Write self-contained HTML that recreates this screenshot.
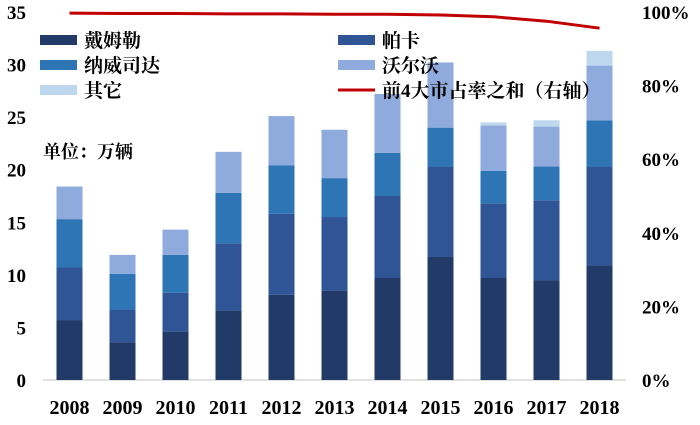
<!DOCTYPE html>
<html><head><meta charset="utf-8"><style>
body{margin:0;background:#fff;}
svg text{font-family:"Liberation Serif","Noto Serif CJK SC",serif;font-weight:bold;fill:#000;}
</style></head><body>
<svg id="c" width="700" height="420"></svg>
<script>
const years=["2008","2009","2010","2011","2012","2013","2014","2015","2016","2017","2018"];
const daimler=[5.7,3.6,4.6,6.6,8.1,8.5,9.7,11.7,9.7,9.5,10.9];
const paccar=[5.0,3.1,3.7,6.4,7.7,7.0,7.8,8.6,7.1,7.6,9.4];
const navistar=[4.6,3.4,3.6,4.8,4.6,3.7,4.1,3.7,3.1,3.2,4.4];
const volvo=[3.1,1.8,2.4,3.9,4.7,4.6,5.6,6.2,4.3,3.8,5.2];
const others=[0,0,0,0,0,0,0,0,0.3,0.6,1.4];
const top4Share=[99.7,99.6,99.6,99.5,99.5,99.4,99.4,99.2,98.7,97.5,95.6];
const leftTicks=[0,5,10,15,20,25,30,35];
const rightTicks=[0,20,40,60,80,100];

const NS="http://www.w3.org/2000/svg";
const svg=document.getElementById('c');
const x0=43,band=53,y0=380,yTop=12,bw=26;
const yL=v=>y0-(v/35)*(y0-yTop);
const yR=v=>y0-(v/100)*(y0-yTop);
const xc=i=>x0+band*i+band/2;
function mk(t,a){const e=document.createElementNS(NS,t);for(const k in a)e.setAttribute(k,a[k]);svg.appendChild(e);return e;}

let ax=mk('line',{x1:x0,x2:x0+band*11,y1:y0,y2:y0,stroke:'#d9d9d9','stroke-width':1.5});



leftTicks.forEach(v=>{let t=mk('text',{x:26,y:yL(v)+7,'text-anchor':'end','font-size':19});t.textContent=v;

});
rightTicks.forEach(v=>{let t=mk('text',{x:642,y:yR(v)+7,'font-size':19});t.textContent=v+'%';

});
years.forEach((y,i)=>{let t=mk('text',{x:xc(i),y:414,'text-anchor':'middle','font-size':20});t.textContent=y;

});

const series=[[daimler,'#223a68','daimler'],[paccar,'#2f5597','paccar'],[navistar,'#2e75b6','navistar'],[volvo,'#8faadc','volvo'],[others,'#bdd7ee','others']];
years.forEach((y,i)=>{let acc=0;series.forEach(([arr,col,nm])=>{const v=arr[i];if(v<=0)return;
const r=mk('rect',{x:xc(i)-bw/2,y:yL(acc+v),width:bw,height:yL(acc)-yL(acc+v),fill:col});


acc+=v;});});

let d=top4Share.map((v,i)=>(i?'L':'M')+xc(i)+','+yR(v)).join(' ');
let ln=mk('path',{d:d,fill:'none',stroke:'#c00000','stroke-width':3});



const leg=[['戴姆勒','#223a68',40,40,'r'],['帕卡','#2f5597',338,40,'r'],['纳威司达','#2e75b6',40,65,'r'],['沃尔沃','#8faadc',338,65,'r'],['其它','#bdd7ee',40,90,'r'],['前4大市占率之和（右轴）','#c00000',338,90,'l']];
leg.forEach(([txt,col,x,y,k])=>{
let s=k=='r'?mk('rect',{x:x,y:y-5,width:37,height:10,fill:col}):mk('line',{x1:x,x2:x+37,y1:y,y2:y,stroke:col,'stroke-width':3});


let t=mk('text',{x:x+44,y:y+7,'font-size':19});t.textContent=txt;

});
let u=mk('text',{x:43,y:158,'font-size':18});u.textContent='单位：万辆';


</script>
</body></html>
